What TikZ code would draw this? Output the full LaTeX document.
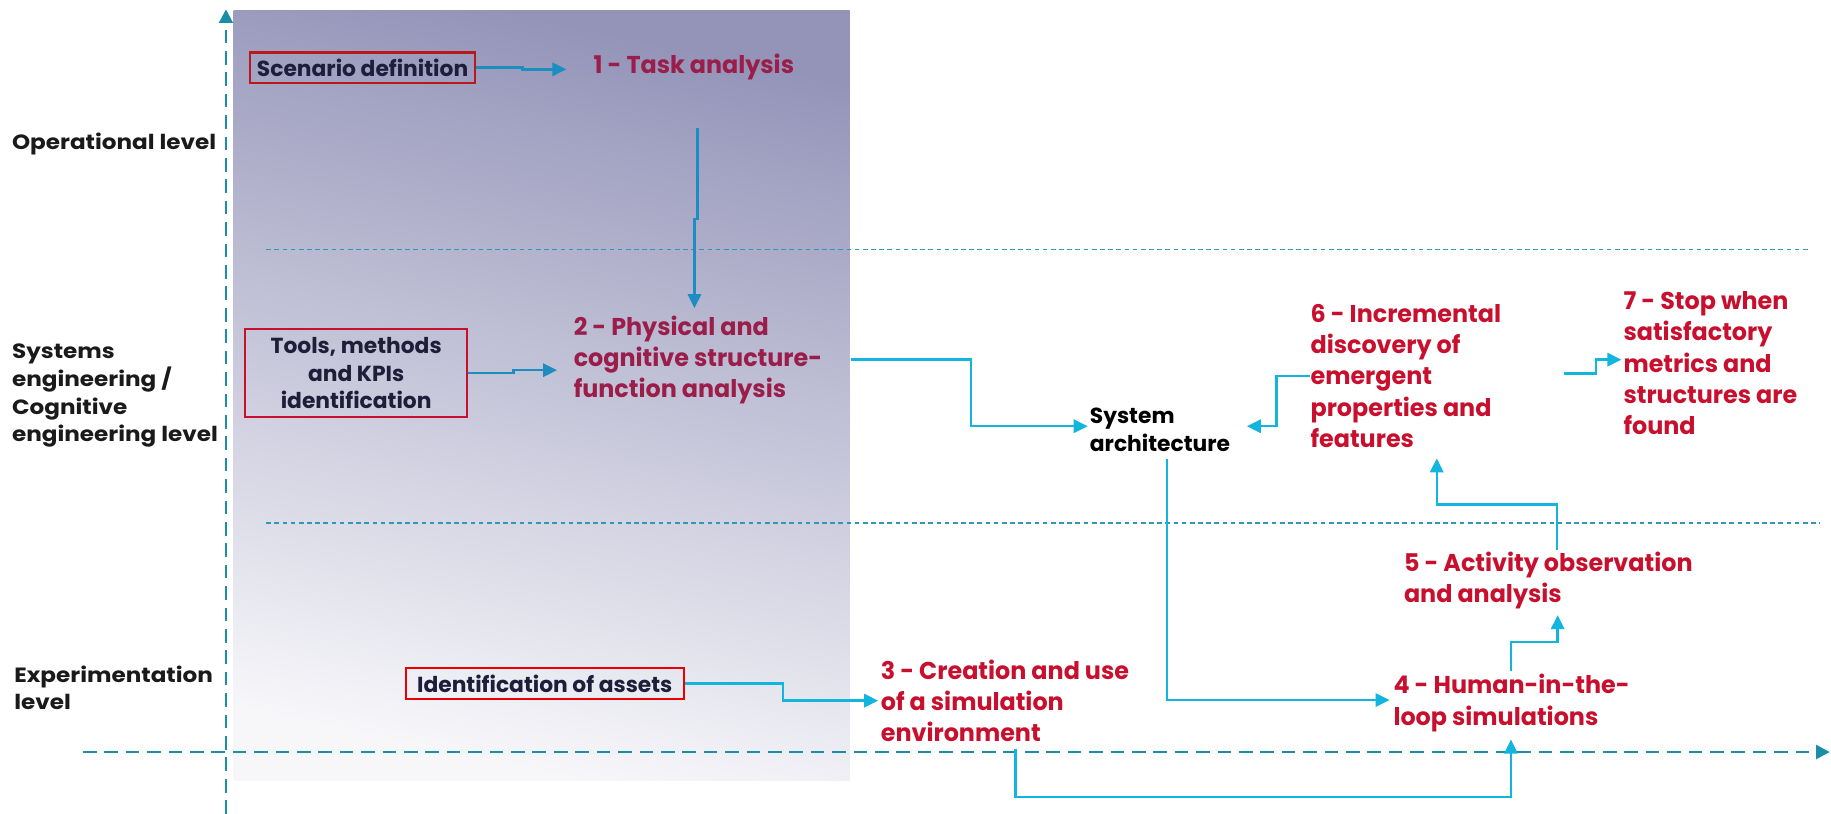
\documentclass[tikz,border=0pt]{standalone}
\usepackage{fontspec}
\setmainfont{Poppins}
\newfontfamily\condfont[FakeStretch=0.98]{Poppins}
\newfontfamily\widefont[FakeStretch=1.12]{Poppins}
\usetikzlibrary{arrows.meta,calc}

\definecolor{panelTop}{HTML}{9494B9}
\definecolor{panelBot}{HTML}{F7F7FA}
\definecolor{stepred}{HTML}{C8102E}
\definecolor{stepmaroon}{HTML}{9A1D4A}
\definecolor{boxink}{HTML}{1E1E3A}
\definecolor{linkin}{HTML}{1B8DC0}
\definecolor{linkout}{HTML}{12B5DD}
\definecolor{axiscol}{HTML}{1A8EA6}
\definecolor{sepcol}{HTML}{2C9AB4}
\definecolor{labelink}{HTML}{1A1A1A}

\tikzset{
  steptext/.style={anchor=west, inner sep=0pt, align=left,
    font=\condfont\bfseries\fontsize{12.5}{16}\selectfont, text=stepred},
  innerstep/.style={steptext, text=stepmaroon},
  inputbox/.style={draw, line width=1.1pt, inner sep=0pt, align=center,
    font=\bfseries\fontsize{11.2}{14.2}\selectfont, text=boxink},
  leveltext/.style={anchor=west, inner sep=0pt, align=left,
    font=\widefont\bfseries\fontsize{10.6}{14.2}\selectfont, text=labelink},
  archtext/.style={anchor=west, inner sep=0pt, align=left,
    font=\bfseries\fontsize{11.2}{14.2}\selectfont, text=black},
  linkbase/.style={line width=1.3pt, -{Triangle[length=7.2pt,width=6.8pt]}},
  conin/.style={linkbase, draw=linkin},
  conout/.style={linkbase, draw=linkout},
  axisline/.style={draw=axiscol, line width=1.5pt, dash pattern=on 7pt off 4pt,
    -{Triangle[length=7pt,width=7pt]}},
  sepline/.style={draw=sepcol, line width=0.75pt, dash pattern=on 2.4pt off 1.8pt}
}

\begin{document}
\begin{tikzpicture}[x=0.6pt,y=-0.6pt]
\useasboundingbox (0,0) rectangle (1568,697);

% shaded panel behind the requirement inputs
\shade[top color=panelTop, bottom color=panelBot, shading angle=-12]
  (200,8.6) rectangle (727.6,668);

% level separators
\draw[sepline] (228,213.5) -- (1548,213.5);
\draw[sepline] (228,448) -- (1558,448);

% axes
\coordinate (vaxB) at (193.5,697);
\coordinate (vaxT) at (193.5,8);
\coordinate (haxL) at (71,644);
\coordinate (haxR) at (1567,644);
\draw[axisline] (vaxB) -- (vaxT);
\draw[axisline] (haxL) -- (haxR);

% level labels
\node[leveltext] (lvop) at (10,123) {Operational level};
\node[leveltext] (lvsys) at (10,339) {Systems\\engineering /\\Cognitive\\engineering level};
\node[leveltext] (lvexp) at (12,589) {Experimentation\\level};

% input boxes
\node[inputbox, draw=red!70!black!90, minimum width=193*0.6pt, minimum height=26*0.6pt]
  (scen) at (310.5,58) {Scenario definition};
\node[inputbox, draw=stepred, minimum width=190*0.6pt, minimum height=75*0.6pt]
  (tools) at (305,319.5) {Tools, methods\\and KPIs\\identification};
\node[inputbox, draw=red!92!black, minimum width=238*0.6pt, minimum height=26.7*0.6pt]
  (ident) at (466.5,585.3) {Identification of assets};

% process steps
\node[innerstep] (t1) at (508,57) {1 - Task analysis};
\node[innerstep] (t2) at (491,308) {2 - Physical and\\cognitive structure-\\function analysis};
\node[archtext] (sa) at (933,368) {System\\architecture};
\node[steptext] (t3) at (754,600) {3 - Creation and use\\of a simulation\\environment};
\node[steptext] (t4) at (1193,602) {4 - Human-in-the-\\loop simulations};
\node[steptext] (t5) at (1202,497) {5 - Activity observation\\and analysis};
\node[steptext] (t6) at (1122,322) {6 - Incremental\\discovery of\\emergent\\properties and\\features};
\node[steptext] (t7) at (1390,311) {7 - Stop when\\satisfactory\\metrics and\\structures are\\found};

% connectors
\draw[conin] (scen.east) -- ++(39.6,0) |- ($(t1.west)+(-23,2.4)$);
\draw[conin] ($(t1.south)+(3.1,41)$) -- ++(0,78) -| ($(t2.north)+(-3,-6)$);
\draw[conin] (tools.east) -- ++(39,0) |- ($(t2.west)+(-14,9)$);
\draw[conout] ($(t2.east)+(24,0)$) -- ++(103,0) |- ($(sa.west)+(-1.5,-3)$);
\draw[conout] (t6.west) -- ++(-29,0) |- ($(sa.east)+(14,-3)$);
\draw[conout] ($(t6.east)+(54,-2)$) -- ++(27,0) |- ($(t7.west)+(-1.5,-3)$);
\draw[conout] ($(sa.south)+(6,6)$) |- ($(t4.west)+(-3,-2.5)$);
\draw[conout] ($(t5.north)+(7.6,-1)$) -- ++(0,-39) -| ($(t6.south)+(26.5,9)$);
\draw[conout] ($(t4.north)+(-0.5,-3)$) -- ++(0,-24.5) -| ($(t5.south)+(8,5)$);
\draw[conout] ($(t3.south)+(9,6)$) -- ++(0,41) -| ($(t4.south)+(-0.5,6.5)$);
\draw[conout] (ident.east) -- ++(84,0) |- ($(t3.west)+(-2,0)$);
\end{tikzpicture}
\end{document}
